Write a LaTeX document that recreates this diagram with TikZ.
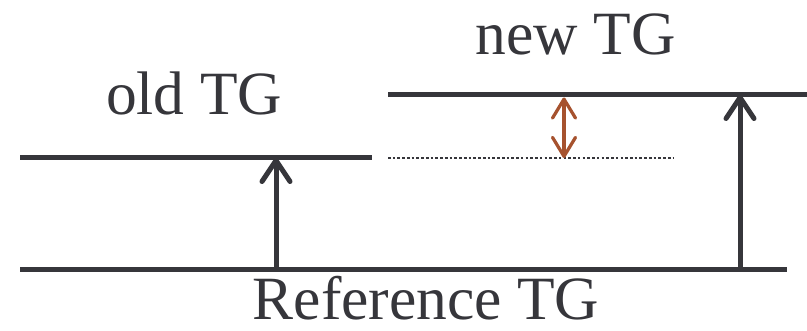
\documentclass[tikz,border=0pt]{standalone}
\usepackage{fontspec}
\setmainfont{Liberation Serif}
\usepackage{tikz}
\usetikzlibrary{arrows.meta}

\definecolor{darkline}{RGB}{54,54,59}
\definecolor{gapred}{RGB}{166,82,46}

\begin{document}
\begin{tikzpicture}[every node/.style={text=darkline, font=\fontsize{35}{42}\selectfont, inner sep=0pt, anchor=base}, line width=0.1cm, darkline]
    \useasboundingbox (0,0) rectangle (16.14,-6.62);

    \coordinate (refL) at (0.4,-5.4);
    \coordinate (refR) at (15.74,-5.4);
    \coordinate (oldL) at (0.4,-3.16);
    \coordinate (oldR) at (7.44,-3.16);
    \coordinate (newL) at (7.76,-1.9);
    \coordinate (newR) at (16.14,-1.9);
    \coordinate (dotL) at (7.76,-3.16);
    \coordinate (dotR) at (13.48,-3.16);

    \draw (refL) -- (refR);
    \draw (oldL) -- (oldR);
    \draw (newL) -- (newR);
    \draw[line width=1.5pt, dash pattern=on 1.5pt off 1.2pt] (dotL) -- (dotR);

    \coordinate (A) at (5.52,-5.4);
    \coordinate (B) at (5.52,-3.16);
    \coordinate (C) at (14.8,-5.4);
    \coordinate (D) at (14.8,-1.9);
    \coordinate (E) at (11.28,-1.95);
    \coordinate (F) at (11.28,-3.16);

    \draw[-{Straight Barb[length=4.2mm, width=5.6mm, round]}] (A) -- (B);
    \draw[-{Straight Barb[length=4.2mm, width=5.6mm, round]}] (C) -- (D);
    \draw[gapred, line width=0.065cm, {Straight Barb[length=3.8mm, width=4.6mm, round]}-{Straight Barb[length=3.8mm, width=4.6mm, round]}] (E) -- (F);

    \node (OLD) at (3.88,-2.30) {old TG};
    \node (NEW) at (11.51,-1.10) {new TG};
    \node[text depth=0pt] (REF) at (8.52,-6.40) {Reference TG};
\end{tikzpicture}
\end{document}
